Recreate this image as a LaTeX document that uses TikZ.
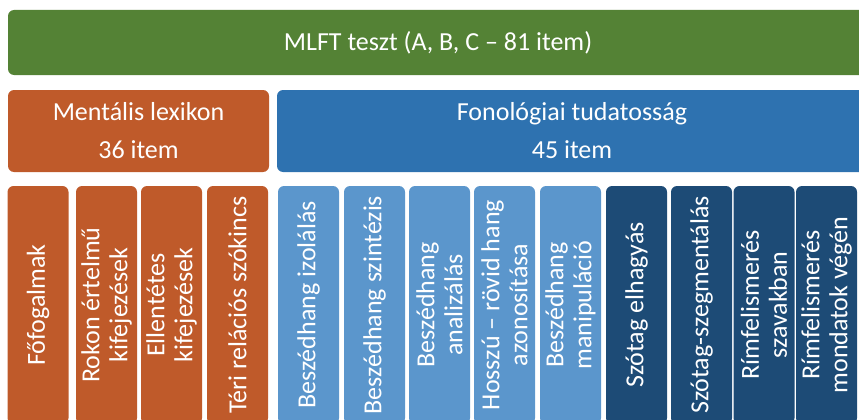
\documentclass[tikz,border=0pt]{standalone}
\usepackage{fontspec}
\setmainfont{Carlito}
\usepackage{tikz}

\definecolor{mlftgreen}{HTML}{548235}
\definecolor{lexorange}{HTML}{BF5A2A}
\definecolor{fonblue}{HTML}{2E72B0}
\definecolor{fonlight}{HTML}{5B96CC}
\definecolor{fondark}{HTML}{1D4B76}

\tikzset{
  box/.style={rounded corners=6pt, inner sep=0pt, text=white, align=center,
    font=\fontsize{26}{38}\selectfont},
  itembox/.style={box, rotate=90, minimum width=238pt, minimum height=61pt,
    font=\fontsize{26}{28}\selectfont},
}

\begin{document}
\begin{tikzpicture}[x=1pt,y=-1pt]
      \clip (0,0) rectangle (859,420);
      % teszt
      \node [box, fill=mlftgreen, minimum width=860pt, minimum height=65pt] (mlft) at (438,42.5) {MLFT teszt (A, B, C – 81 item)};
      % two parts
      \node [box, fill=lexorange, minimum width=261pt, minimum height=82pt] (lexikon) at (138.5,131) {Mentális lexikon\\36 item};
      \node [box, fill=fonblue, minimum width=590pt, minimum height=82pt] (fonologia) at (572,131) {Fonológiai tudatosság\\45 item};
      % subtests, mental lexicon
      \node [itembox, fill=lexorange] (fofogalmak) at (38,305) {Főfogalmak};
      \node [itembox, fill=lexorange] (rokon) at (106.5,305) {Rokon értelmű\\kifejezések};
      \node [itembox, fill=lexorange] (ellentetes) at (171.5,305) {Ellentétes\\kifejezések};
      \node [itembox, fill=lexorange] (teri) at (237.5,305) {Téri relációs szókincs};
      % subtests, phonological awareness
      \node [itembox, fill=fonlight] (izolalas) at (308.5,305) {Beszédhang izolálás};
      \node [itembox, fill=fonlight] (szintezis) at (374.5,305) {Beszédhang szintézis};
      \node [itembox, fill=fonlight] (analizalas) at (439.5,305) {Beszédhang\\analizálás};
      \node [itembox, fill=fonlight] (hosszu) at (504.5,305) {Hosszú – rövid hang\\azonosítása};
      \node [itembox, fill=fonlight] (manipulacio) at (570.5,305) {Beszédhang\\manipuláció};
      \node [itembox, fill=fondark] (elhagyas) at (636.5,305) {Szótag elhagyás};
      \node [itembox, fill=fondark] (szegmentalas) at (701.5,305) {Szótag-szegmentálás};
      \node [itembox, fill=fondark] (rimszo) at (764,305) {Rímfelismerés\\szavakban};
      \node [itembox, fill=fondark] (rimmondat) at (826.5,305) {Rímfelismerés\\mondatok végén};
    \end{tikzpicture}
\end{document}
